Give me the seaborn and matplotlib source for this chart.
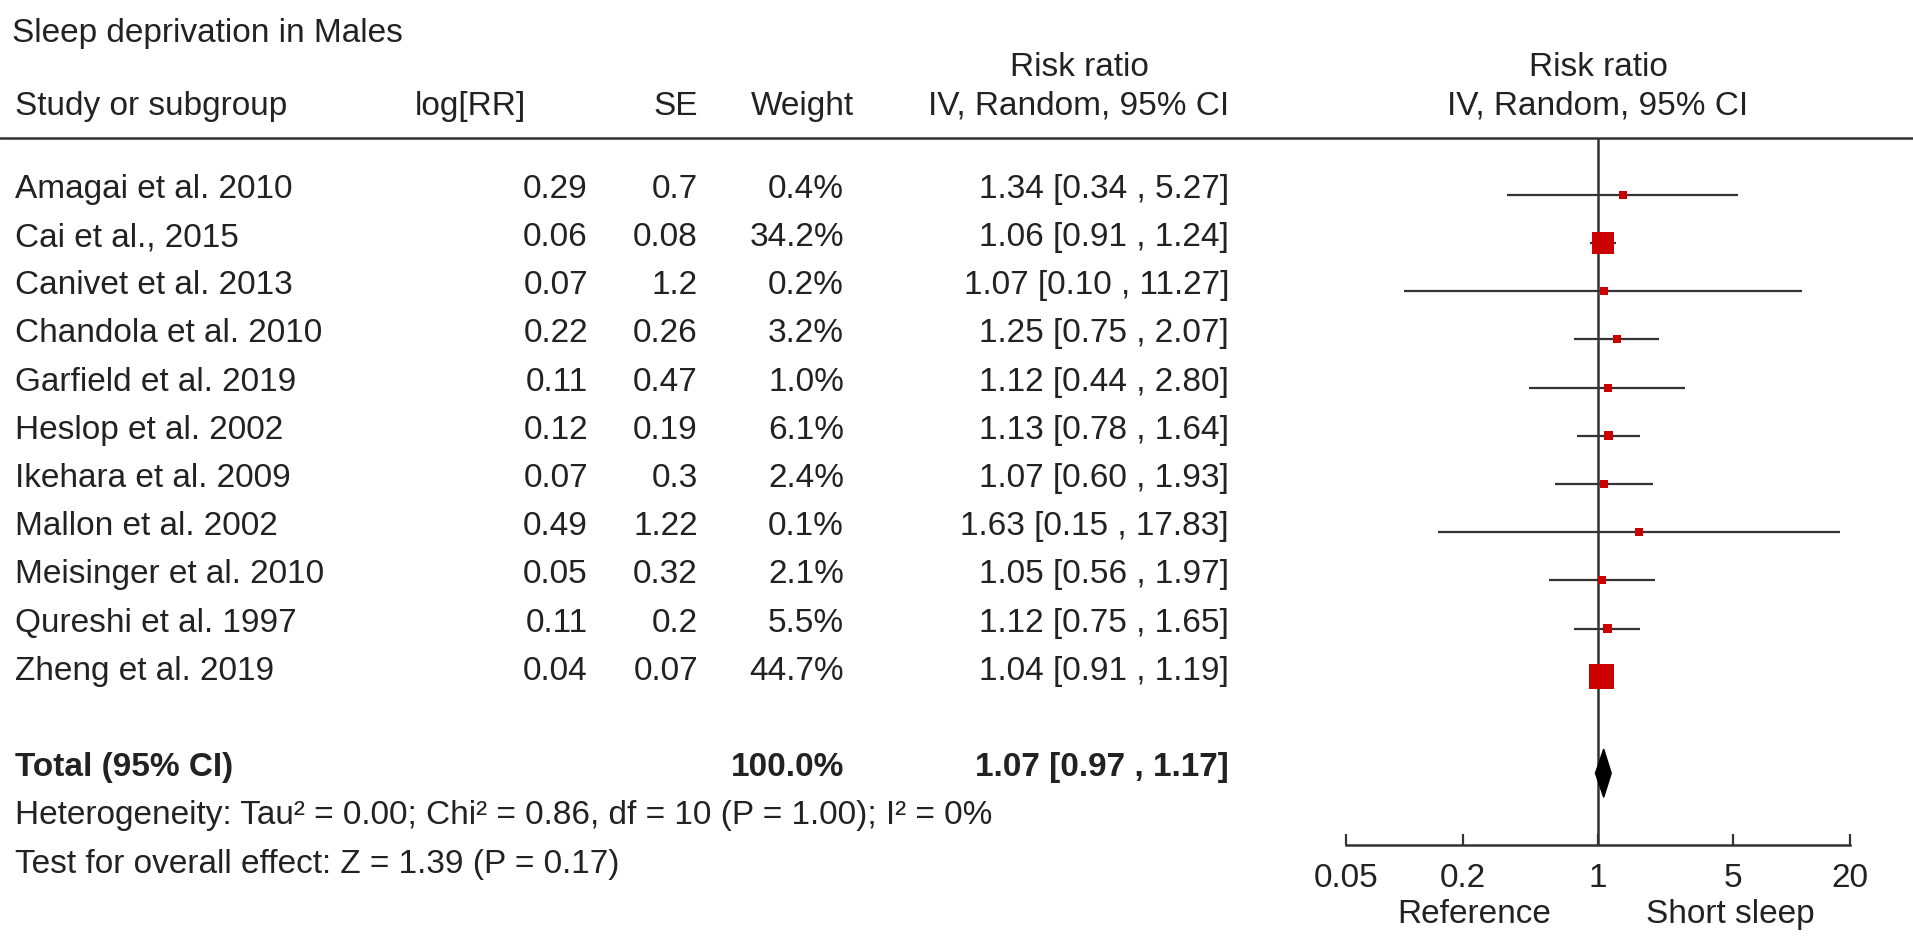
import numpy as np
import pandas as pd
import matplotlib
matplotlib.use("Agg")
import matplotlib.pyplot as plt
from matplotlib.patches import Polygon
import seaborn as sns

# data
studies = ["Amagai et al. 2010", "Cai et al., 2015", "Canivet et al. 2013",
           "Chandola et al. 2010", "Garfield et al. 2019", "Heslop et al. 2002",
           "Ikehara et al. 2009", "Mallon et al. 2002", "Meisinger et al. 2010",
           "Qureshi et al. 1997", "Zheng et al. 2019"]
log_rr = [0.29, 0.06, 0.07, 0.22, 0.11, 0.12, 0.07, 0.49, 0.05, 0.11, 0.04]
se = [0.7, 0.08, 1.2, 0.26, 0.47, 0.19, 0.3, 1.22, 0.32, 0.2, 0.07]
weight = [0.4, 34.2, 0.2, 3.2, 1.0, 6.1, 2.4, 0.1, 2.1, 5.5, 44.7]
rr = [1.34, 1.06, 1.07, 1.25, 1.12, 1.13, 1.07, 1.63, 1.05, 1.12, 1.04]
rr_lo = [0.34, 0.91, 0.10, 0.75, 0.44, 0.78, 0.60, 0.15, 0.56, 0.75, 0.91]
rr_hi = [5.27, 1.24, 11.27, 2.07, 2.80, 1.64, 1.93, 17.83, 1.97, 1.65, 1.19]

total_rr, total_lo, total_hi = 1.07, 0.97, 1.17
total_weight = 100.0
heterogeneity = "Heterogeneity: Tau² = 0.00; Chi² = 0.86, df = 10 (P = 1.00); I² = 0%"
overall_test = "Test for overall effect: Z = 1.39 (P = 0.17)"
x_ticks = [0.05, 0.2, 1, 5, 20]
x_ticklabels = ["0.05", "0.2", "1", "5", "20"]

df = pd.DataFrame({"study": studies, "log_rr": log_rr, "se": se, "weight": weight,
                   "rr": rr, "lo": rr_lo, "hi": rr_hi})
df["row"] = np.arange(len(df))
# square side grows with sqrt(weight), with a minimum size (in points^2)
side_px = np.maximum(8, 3.74 * np.sqrt(df["weight"]))
df["area"] = (side_px * 0.72) ** 2
total_row = len(df) + 1

sns.set_style("white")
plt.rcParams["font.family"] = ["Liberation Sans", "DejaVu Sans"]
FS = 24
W, H = 1913, 939
ROW_PX, ROW0_PX = 48.2, 195.0

fig = plt.figure(figsize=(W / 100, H / 100), dpi=100)

# background axes: x in pixels, y in row units
bg = fig.add_axes([0, 0, 1, 1])
bg.set_xlim(0, W)
bg.set_ylim((H - ROW0_PX) / ROW_PX, -ROW0_PX / ROW_PX)
bg.axis("off")

def txt(x, row, s, ha="left", bold=False):
    bg.text(x, row + 0.06, s, ha=ha, va="baseline", fontsize=FS,
            fontweight="bold" if bold else "normal", color="#222222")

# headers
txt(12, -3.24, "Sleep deprivation in Males")
txt(1079, -2.53, "Risk ratio", ha="center")
txt(1598, -2.53, "Risk ratio", ha="center")
txt(15, -1.72, "Study or subgroup")
txt(415, -1.72, "log[RR]")
txt(698, -1.72, "SE", ha="right")
txt(854, -1.72, "Weight", ha="right")
txt(1229, -1.72, "IV, Random, 95% CI", ha="right")
txt(1598, -1.72, "IV, Random, 95% CI", ha="center")
bg.plot([0, W], [-1.18, -1.18], color="#333333", lw=1.8)

# study rows
for r in df.itertuples():
    txt(15, r.row, r.study)
    txt(588, r.row, f"{r.log_rr:.2f}", ha="right")
    txt(698, r.row, f"{r.se:g}", ha="right")
    txt(844, r.row, f"{r.weight:.1f}%", ha="right")
    txt(1229, r.row, f"{r.rr:.2f} [{r.lo:.2f} , {r.hi:.2f}]", ha="right")

txt(15, total_row, "Total (95% CI)", bold=True)
txt(844, total_row, f"{total_weight:.1f}%", ha="right", bold=True)
txt(1229, total_row, f"{total_rr:.2f} [{total_lo:.2f} , {total_hi:.2f}]", ha="right", bold=True)
txt(15, total_row + 1, heterogeneity)
txt(15, total_row + 2, overall_test)
txt(1474, 15.05, "Reference", ha="center")
txt(1730, 15.05, "Short sleep", ha="center")

# forest axes
ax = fig.add_axes([1346 / W, 1 - 845 / H, 504 / W, (845 - 138) / H])
ax.set_facecolor("none")
ax.set_xscale("log")
ax.axvline(1, color="#333333", lw=1.8, zorder=1)
ax.hlines(df["row"], df["lo"], df["hi"], color="#333333", lw=1.6, zorder=2)
sns.scatterplot(data=df, x="rr", y="row", size="area",
                sizes=(df["area"].min(), df["area"].max()),
                size_norm=(df["area"].min(), df["area"].max()),
                marker="s", color="#cc0000", linewidth=0, legend=False,
                zorder=3, ax=ax)
h = 0.5
diamond = Polygon([(total_lo, total_row), (total_rr, total_row - h),
                   (total_hi, total_row), (total_rr, total_row + h)],
                  closed=True, color="black", zorder=4)
ax.add_patch(diamond)

ax.set_xlim(x_ticks[0], x_ticks[-1])
ax.set_ylim(13.49, -1.18)
ax.set_xticks(x_ticks)
ax.set_xticklabels(x_ticklabels)
ax.xaxis.set_minor_locator(matplotlib.ticker.NullLocator())
ax.set_yticks([])
ax.set_xlabel("")
ax.set_ylabel("")
for side in ["top", "left", "right"]:
    ax.spines[side].set_visible(False)
ax.spines["bottom"].set_color("#333333")
ax.spines["bottom"].set_linewidth(1.8)
ax.tick_params(axis="x", direction="in", length=8, width=1.6, color="#333333",
               labelsize=FS, labelcolor="#222222", pad=13, bottom=True)

fig.savefig("out.png", dpi=100)
